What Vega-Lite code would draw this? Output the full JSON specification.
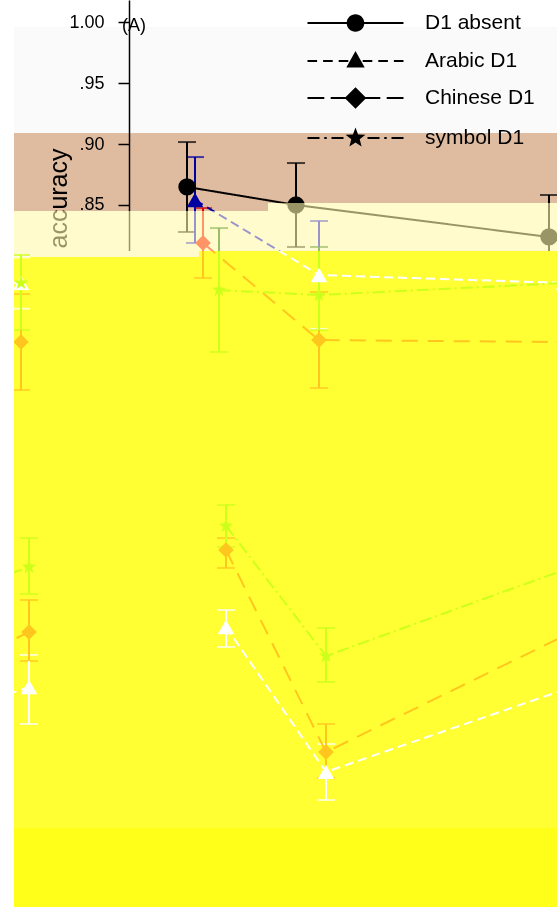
{
  "$schema": "https://vega.github.io/schema/vega-lite/v6.json",
  "padding": {"left": 14, "top": 0, "right": 0, "bottom": 0},
  "spacing": 0,
  "bounds": "flush",
  "config": {
    "view": {"stroke": null},
    "font": "Liberation Sans",
    "axis": {"labelFont": "Liberation Sans", "titleFont": "Liberation Sans"},
    "legend": {"labelFont": "Liberation Sans"}
  },
  "datasets": {
    "bands": [
      {"panel": "top", "part": "gray", "x0": -0.12, "x1": 5.31, "y0": 0.9959, "y1": 0.9090},
      {"panel": "top", "part": "cream", "x0": -0.12, "x1": 2.42, "y0": 0.84508, "y1": 0.812295},
      {"panel": "top", "part": "cream", "x0": 2.42, "x1": 5.31, "y0": 0.85164, "y1": 0.812295},
      {"panel": "top", "part": "brown", "x0": -0.12, "x1": 2.42, "y0": 0.90902, "y1": 0.84508},
      {"panel": "top", "part": "brown", "x0": 2.42, "x1": 5.31, "y0": 0.90902, "y1": 0.85164},
      {"panel": "bottom", "part": "cream", "x0": -0.12, "x1": 1.73, "y0": 0.812295, "y1": 0.80738},
      {"panel": "bottom", "part": "yellow", "x0": -0.12, "x1": 5.31, "y0": 0.33934, "y1": 0.27459}
    ],
    "notes": [
      {"label": "(A)", "pos": 0.96, "acc": 0.9967}
    ],
    "pts": [
      {"series": "D1 absent", "trace": "A", "pos": 1.61, "acc": 0.8648, "lo": 0.8279, "hi": 0.9016},
      {"series": "D1 absent", "trace": "A", "pos": 2.70, "acc": 0.8500, "lo": 0.8156, "hi": 0.8844},
      {"series": "D1 absent", "trace": "A", "pos": 5.23, "acc": 0.8238, "lo": 0.7893, "hi": 0.8582},
      {"series": "Arabic D1", "trace": "A-left", "pos": -2.50, "acc": 0.7926},
      {"series": "Arabic D1", "trace": "A-left", "pos": -0.05, "acc": 0.7861, "lo": 0.7650, "hi": 0.8070},
      {"series": "Arabic D1", "trace": "A", "pos": 1.69, "acc": 0.8541, "lo": 0.8189, "hi": 0.8893},
      {"series": "Arabic D1", "trace": "A", "pos": 2.93, "acc": 0.7926, "lo": 0.7484, "hi": 0.8369},
      {"series": "Arabic D1", "trace": "A", "pos": 5.38, "acc": 0.7861},
      {"series": "Chinese D1", "trace": "A-left", "pos": -2.50, "acc": 0.7393},
      {"series": "Chinese D1", "trace": "A-left", "pos": -0.05, "acc": 0.7377, "lo": 0.6984, "hi": 0.7770},
      {"series": "Chinese D1", "trace": "A", "pos": 1.77, "acc": 0.8189, "lo": 0.7902, "hi": 0.8475},
      {"series": "Chinese D1", "trace": "A", "pos": 2.93, "acc": 0.7393, "lo": 0.7000, "hi": 0.7787},
      {"series": "Chinese D1", "trace": "A", "pos": 5.38, "acc": 0.7377},
      {"series": "symbol D1", "trace": "A-left", "pos": -2.50, "acc": 0.7762},
      {"series": "symbol D1", "trace": "A-left", "pos": -0.05, "acc": 0.7861, "lo": 0.7475, "hi": 0.8090},
      {"series": "symbol D1", "trace": "A", "pos": 1.93, "acc": 0.7803, "lo": 0.7295, "hi": 0.8311},
      {"series": "symbol D1", "trace": "A", "pos": 2.93, "acc": 0.7762, "lo": 0.7475, "hi": 0.8156},
      {"series": "symbol D1", "trace": "A", "pos": 5.38, "acc": 0.7861},
      {"series": "Arabic D1", "trace": "B-left", "pos": -2.43, "acc": 0.3853},
      {"series": "Arabic D1", "trace": "B-left", "pos": 0.03, "acc": 0.4549, "lo": 0.4246, "hi": 0.4812},
      {"series": "Arabic D1", "trace": "B", "pos": 2.00, "acc": 0.5041, "lo": 0.4877, "hi": 0.5180},
      {"series": "Arabic D1", "trace": "B", "pos": 3.00, "acc": 0.3853, "lo": 0.3623, "hi": 0.4082},
      {"series": "Arabic D1", "trace": "B", "pos": 5.46, "acc": 0.4549},
      {"series": "Chinese D1", "trace": "B-left", "pos": -2.43, "acc": 0.4016},
      {"series": "Chinese D1", "trace": "B-left", "pos": 0.03, "acc": 0.5000, "lo": 0.4762, "hi": 0.5262},
      {"series": "Chinese D1", "trace": "B", "pos": 2.00, "acc": 0.5672, "lo": 0.5525, "hi": 0.5770},
      {"series": "Chinese D1", "trace": "B", "pos": 3.00, "acc": 0.4016, "lo": 0.3803, "hi": 0.4246},
      {"series": "Chinese D1", "trace": "B", "pos": 5.46, "acc": 0.5000},
      {"series": "symbol D1", "trace": "B-left", "pos": -2.43, "acc": 0.4803},
      {"series": "symbol D1", "trace": "B-left", "pos": 0.03, "acc": 0.5533, "lo": 0.5311, "hi": 0.5770},
      {"series": "symbol D1", "trace": "B", "pos": 2.00, "acc": 0.5869, "lo": 0.5697, "hi": 0.6041},
      {"series": "symbol D1", "trace": "B", "pos": 3.00, "acc": 0.4803, "lo": 0.4590, "hi": 0.5033},
      {"series": "symbol D1", "trace": "B", "pos": 5.46, "acc": 0.5533}
    ]
  },
  "resolve": {"scale": {"x": "independent", "y": "independent", "color": "independent", "fill": "independent", "shape": "independent", "strokeDash": "independent", "size": "independent"}},
  "vconcat": [
    {
      "width": 543,
      "height": 251,
      "resolve": {"scale": {"shape": "independent"}},
      "encoding": {
        "x": {"field": "pos", "type": "quantitative", "scale": {"domain": [-0.12, 5.31], "nice": false, "zero": false}, "axis": null},
        "y": {"field": "acc", "type": "quantitative", "scale": {"domain": [0.812295, 1.018033], "nice": false, "zero": false},
          "axis": {"values": [0.85, 0.9, 0.95, 1.0], "labelExpr": "datum.value >= 1 ? '1.00' : substring(format(datum.value, '.2f'), 1)",
            "offset": -115, "tickSize": 11, "labelPadding": 14, "labelFontSize": 18, "labelColor": "#000000", "domainColor": "#000000", "tickColor": "#000000",
            "domainWidth": 1.5, "tickWidth": 1.5, "grid": false, "labelFlush": false,
            "title": "accuracy", "titleFontSize": 25, "titleFontWeight": "normal", "titleColor": "#000000", "titleX": -71, "titleY": 198, "titleAngle": 270, "titleBaseline": "middle", "titleAlign": "center"}}
      },
      "layer": [
        {
          "data": {"name": "bands"},
          "transform": [{"filter": "datum.panel === 'top' && datum.part === 'gray'"}],
          "mark": {"type": "rect", "color": "#fafafa", "blend": "multiply"},
          "encoding": {
            "x": {"field": "x0", "type": "quantitative", "scale": {"domain": [-0.12, 5.31], "nice": false, "zero": false}, "axis": null},
            "x2": {"field": "x1"},
            "y": {"field": "y0", "type": "quantitative", "scale": {"domain": [0.812295, 1.018033], "nice": false, "zero": false}},
            "y2": {"field": "y1"}
          }
        },
        {
          "data": {"name": "pts"},
          "transform": [{"filter": "isValid(datum.lo)"}],
          "mark": {"type": "errorbar", "ticks": {"size": 18}, "thickness": 2, "clip": true},
          "encoding": {
            "y": {"field": "lo", "type": "quantitative", "scale": {"domain": [0.812295, 1.018033], "nice": false, "zero": false}},
            "y2": {"field": "hi"},
            "color": {"field": "series", "type": "nominal", "scale": {"domain": ["D1 absent", "Arabic D1", "Chinese D1", "symbol D1"], "range": ["#000000", "#0000ff", "#ff0000", "#006400"]}, "legend": null}
          }
        },
        {
          "data": {"name": "pts"},
          "mark": {"type": "line", "clip": true, "strokeWidth": 2},
          "encoding": {
            "detail": {"field": "trace"},
            "color": {"field": "series", "type": "nominal", "scale": {"domain": ["D1 absent", "Arabic D1", "Chinese D1", "symbol D1"], "range": ["#000000", "#0000ff", "#ff0000", "#006400"]}, "legend": null},
            "strokeDash": {"field": "series", "type": "nominal", "scale": {"domain": ["D1 absent", "Arabic D1", "Chinese D1", "symbol D1"], "range": [[1, 0], [9, 5], [16, 10], [12, 4, 2, 4]]}, "legend": null}
          }
        },
        {
          "data": {"name": "pts"},
          "mark": {"type": "point", "filled": true, "opacity": 1, "clip": true},
          "encoding": {
            "color": {"field": "series", "type": "nominal", "scale": {"domain": ["D1 absent", "Arabic D1", "Chinese D1", "symbol D1"], "range": ["#000000", "#0000ff", "#ff0000", "#006400"]}, "legend": null},
            "shape": {"field": "series", "type": "nominal", "scale": {"domain": ["D1 absent", "Arabic D1", "Chinese D1", "symbol D1"], "range": ["circle", "triangle-up", "diamond", "M0,-1L0.249,-0.342L0.951,-0.309L0.402,0.131L0.588,0.809L0,0.423L-0.588,0.809L-0.402,0.131L-0.951,-0.309L-0.249,-0.342Z"]}, "legend": null},
            "size": {"field": "series", "type": "nominal", "scale": {"domain": ["D1 absent", "Arabic D1", "Chinese D1", "symbol D1"], "range": [300, 220, 420, 260]}, "legend": null}
          }
        },
        {
          "data": {"name": "pts"},
          "transform": [{"filter": "datum.pos < -1"}],
          "mark": {"type": "point", "filled": true, "opacity": 1, "clip": true},
          "encoding": {
            "fill": {"field": "series", "type": "nominal", "scale": {"domain": ["D1 absent", "Arabic D1", "Chinese D1", "symbol D1"], "range": ["#000000", "#0000ff", "#ff0000", "#006400"]},
              "legend": {"orient": "none", "legendX": 331, "legendY": 12.5, "title": null, "padding": 0, "symbolSize": 256,
                "labelFontSize": 21, "labelColor": "#000000", "labelOffset": 59, "rowPadding": 12,
                "encode": {"symbols": {"update": {"fill": {"signal": "datum.value === 'D1 absent' ? '#000000' : datum.value === 'Arabic D1' ? '#0000ff' : datum.value === 'Chinese D1' ? '#ff0000' : '#006400'"}}}}}},
            "shape": {"field": "series", "type": "nominal", "scale": {"domain": ["D1 absent", "Arabic D1", "Chinese D1", "symbol D1"], "range": [
              "M-6,-0.125H6V0.125H-6ZM-1.1,0A1.1,1.1,0,1,1,1.1,0A1.1,1.1,0,1,1,-1.1,0Z",
              "M-6,-0.125H-4.8V0.125H-6ZM-4.05,-0.125H-2.85V0.125H-4.05ZM-2.1,-0.125H-0.9V0.125H-2.1ZM0.9,-0.125H2.1V0.125H0.9ZM2.85,-0.125H4.05V0.125H2.85ZM4.8,-0.125H6V0.125H4.8ZM0,-1.25L1.15,0.8L-1.15,0.8Z",
              "M-6,-0.125H-3.9V0.125H-6ZM-3.1,-0.125H-1V0.125H-3.1ZM1,-0.125H3.1V0.125H1ZM3.9,-0.125H6V0.125H3.9ZM0,-1.35L1.35,0L0,1.35L-1.35,0Z",
              "M-6,-0.125H-4.5V0.125H-6ZM-3.9,-0.125H-3.6V0.125H-3.9ZM-3,-0.125H-1.5V0.125H-3ZM1.5,-0.125H3V0.125H1.5ZM3.6,-0.125H3.9V0.125H3.6ZM4.5,-0.125H6V0.125H4.5ZM0,-1.3L0.323,-0.445L1.236,-0.402L0.523,0.17L0.764,1.052L0,0.55L-0.764,1.052L-0.523,0.17L-1.236,-0.402L-0.323,-0.445Z"
            ]},
              "legend": {"orient": "none", "legendX": 331, "legendY": 12.5, "title": null, "padding": 0, "symbolSize": 256,
                "labelFontSize": 21, "labelColor": "#000000", "labelOffset": 59, "rowPadding": 12,
                "encode": {"symbols": {"update": {"fill": {"signal": "datum.value === 'D1 absent' ? '#000000' : datum.value === 'Arabic D1' ? '#0000ff' : datum.value === 'Chinese D1' ? '#ff0000' : '#006400'"}}}}}}
          }
        },
        {
          "data": {"name": "bands"},
          "transform": [{"filter": "datum.panel === 'top' && datum.part === 'cream'"}],
          "mark": {"type": "rect", "color": "#fff8aa", "opacity": 0.6},
          "encoding": {
            "x": {"field": "x0", "type": "quantitative", "scale": {"domain": [-0.12, 5.31], "nice": false, "zero": false}, "axis": null},
            "x2": {"field": "x1"},
            "y": {"field": "y0", "type": "quantitative", "scale": {"domain": [0.812295, 1.018033], "nice": false, "zero": false}},
            "y2": {"field": "y1"}
          }
        },
        {
          "data": {"name": "bands"},
          "transform": [{"filter": "datum.panel === 'top' && datum.part === 'brown'"}],
          "mark": {"type": "rect", "color": "#dfbba0", "blend": "multiply"},
          "encoding": {
            "x": {"field": "x0", "type": "quantitative", "scale": {"domain": [-0.12, 5.31], "nice": false, "zero": false}, "axis": null},
            "x2": {"field": "x1"},
            "y": {"field": "y0", "type": "quantitative", "scale": {"domain": [0.812295, 1.018033], "nice": false, "zero": false}},
            "y2": {"field": "y1"}
          }
        },
        {
          "data": {"name": "notes"},
          "mark": {"type": "text", "fontSize": 18, "align": "left", "baseline": "middle", "color": "#000000"},
          "encoding": {"text": {"field": "label"}}
        }
      ]
    },
    {
      "width": 543,
      "height": 656,
      "view": {"fill": "#ffff33", "stroke": null},
      "encoding": {
        "x": {"field": "pos", "type": "quantitative", "scale": {"domain": [-0.12, 5.31], "nice": false, "zero": false}, "axis": null},
        "y": {"field": "acc", "type": "quantitative", "scale": {"domain": [0.27459, 0.812295], "nice": false, "zero": false}, "axis": null}
      },
      "layer": [
        {
          "data": {"name": "bands"},
          "transform": [{"filter": "datum.panel === 'bottom' && datum.part === 'yellow'"}],
          "mark": {"type": "rect", "color": "#ffff1a"},
          "encoding": {
            "x": {"field": "x0", "type": "quantitative", "scale": {"domain": [-0.12, 5.31], "nice": false, "zero": false}, "axis": null},
            "x2": {"field": "x1"},
            "y": {"field": "y0", "type": "quantitative", "scale": {"domain": [0.27459, 0.812295], "nice": false, "zero": false}, "axis": null},
            "y2": {"field": "y1"}
          }
        },
        {
          "data": {"name": "bands"},
          "transform": [{"filter": "datum.panel === 'bottom' && datum.part === 'cream'"}],
          "mark": {"type": "rect", "color": "#fffbcc"},
          "encoding": {
            "x": {"field": "x0", "type": "quantitative", "scale": {"domain": [-0.12, 5.31], "nice": false, "zero": false}, "axis": null},
            "x2": {"field": "x1"},
            "y": {"field": "y0", "type": "quantitative", "scale": {"domain": [0.27459, 0.812295], "nice": false, "zero": false}, "axis": null},
            "y2": {"field": "y1"}
          }
        },
        {
          "data": {"name": "pts"},
          "transform": [{"filter": "isValid(datum.lo)"}],
          "mark": {"type": "errorbar", "ticks": {"size": 18}, "thickness": 2, "clip": true},
          "encoding": {
            "y": {"field": "lo", "type": "quantitative", "scale": {"domain": [0.27459, 0.812295], "nice": false, "zero": false}, "axis": null},
            "y2": {"field": "hi"},
            "color": {"field": "series", "type": "nominal", "scale": {"domain": ["D1 absent", "Arabic D1", "Chinese D1", "symbol D1"], "range": ["#ffff33", "#ffffff", "#ffc61e", "#ccff1a"]}, "legend": null}
          }
        },
        {
          "data": {"name": "pts"},
          "mark": {"type": "line", "clip": true, "strokeWidth": 2},
          "encoding": {
            "detail": {"field": "trace"},
            "color": {"field": "series", "type": "nominal", "scale": {"domain": ["D1 absent", "Arabic D1", "Chinese D1", "symbol D1"], "range": ["#ffff33", "#ffffff", "#ffc61e", "#ccff1a"]}, "legend": null},
            "strokeDash": {"field": "series", "type": "nominal", "scale": {"domain": ["D1 absent", "Arabic D1", "Chinese D1", "symbol D1"], "range": [[1, 0], [9, 5], [16, 10], [12, 4, 2, 4]]}, "legend": null}
          }
        },
        {
          "data": {"name": "pts"},
          "mark": {"type": "point", "filled": true, "opacity": 1, "clip": true},
          "encoding": {
            "color": {"field": "series", "type": "nominal", "scale": {"domain": ["D1 absent", "Arabic D1", "Chinese D1", "symbol D1"], "range": ["#ffff33", "#ffffff", "#ffc61e", "#ccff1a"]}, "legend": null},
            "shape": {"field": "series", "type": "nominal", "scale": {"domain": ["D1 absent", "Arabic D1", "Chinese D1", "symbol D1"], "range": ["circle", "triangle-up", "diamond", "M0,-1L0.249,-0.342L0.951,-0.309L0.402,0.131L0.588,0.809L0,0.423L-0.588,0.809L-0.402,0.131L-0.951,-0.309L-0.249,-0.342Z"]}, "legend": null},
            "size": {"field": "series", "type": "nominal", "scale": {"domain": ["D1 absent", "Arabic D1", "Chinese D1", "symbol D1"], "range": [300, 220, 420, 260]}, "legend": null}
          }
        }
      ]
    }
  ]
}
